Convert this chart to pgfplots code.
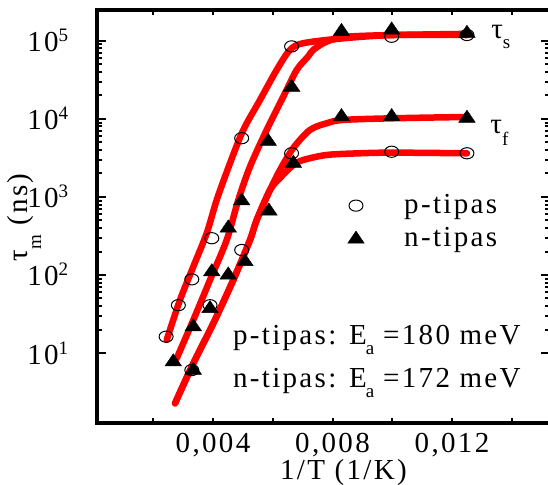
\documentclass[border=0pt]{standalone}
\usepackage{fontspec}
\setmainfont[LetterSpace=8]{Liberation Serif}
\usepackage{pgfplots}
\pgfplotsset{compat=1.18}
\begin{document}
\fontsize{29}{34}\selectfont
\begin{tikzpicture}
\useasboundingbox (-97pt,-61pt) rectangle (451pt,423pt);
\begin{axis}[
  at={(0pt,0pt)}, anchor=south west,
  scale only axis, width=453pt, height=413pt,
  clip=false,
  axis on top,
  ymode=log,
  xmin=0.000117, xmax=0.01528,
  ymin=1.268, ymax=249000,
  axis line style={black, line width=3.5pt},
  tick align=inside,
  every tick/.style={black, line width=2pt},
  major tick length=9pt, minor tick length=5pt,
  xtick={0.004,0.008,0.012},
  xticklabels={{0,004},{0,008},{0,012}},
  minor xtick={0.002,0.006,0.010,0.014},
  xtick style={/pgfplots/major tick length=5pt,/pgfplots/minor tick length=5pt},
  ytick={10,100,1000,10000,100000},
  yticklabels={10\raisebox{10pt}{\fontsize{19}{19}\selectfont 1},
               10\raisebox{10pt}{\fontsize{19}{19}\selectfont 2},
               10\raisebox{10pt}{\fontsize{19}{19}\selectfont 3},
               10\raisebox{10pt}{\fontsize{19}{19}\selectfont 4},
               10\raisebox{10pt}{\fontsize{19}{19}\selectfont 5}},
  xticklabel style={anchor=base, yshift=-29pt},
  yticklabel style={anchor=base east, xshift=-19pt, yshift=-11pt},
  scaled x ticks=false,
  legend style={draw=none, fill=none, at={(axis description cs:0.5465,0.565)}, anchor=north west,
    row sep=6pt, /tikz/every odd column/.append style={column sep=38pt}},
  legend cell align=left,
]
% frame
\draw[black, line width=3.5pt, line cap=rect] (rel axis cs:0,0) -- (rel axis cs:0,1) -- (rel axis cs:1,1);
\draw[black, line width=3.5pt, line cap=rect] (rel axis cs:0,0) -- (rel axis cs:1,0) -- (rel axis cs:1,1);
% fitted curves
\addplot[red, line width=6.5pt, line cap=round, smooth, tension=0.5, forget plot] coordinates {
(0.002450,14.7) (0.002895,47.8) (0.003341,128) (0.003789,343) (0.004124,916)
(0.004569,2705) (0.005014,7230) (0.005573,17500) (0.006132,42500) (0.006577,76700)
(0.007023,93500) (0.008361,108000) (0.010035,119000) (0.012502,119000)};
\addplot[red, line width=6.5pt, line cap=round, smooth, tension=0.5, forget plot] coordinates {
(0.002785,8.55) (0.003341,26.5) (0.003900,86.3) (0.004459,281) (0.004847,916)
(0.005238,2446) (0.005797,7230) (0.006353,19300) (0.006802,42500) (0.007180,62900)
(0.007357,76700) (0.007806,98000) (0.008475,113000) (0.010035,119000) (0.012502,123000)};
\addplot[red, line width=6.5pt, line cap=round, smooth, tension=0.5, forget plot] coordinates {
(0.002728,2.26) (0.003341,7.38) (0.004010,24.0) (0.004679,86.3) (0.005238,281)
(0.005463,507) (0.005908,1230) (0.006243,2220) (0.006688,4250) (0.007247,7230)
(0.007806,8810) (0.008361,9710) (0.010035,10200) (0.012502,10600)};
\addplot[red, line width=6.5pt, line cap=round, smooth, tension=0.5, forget plot] coordinates {
(0.002728,2.26) (0.003341,7.38) (0.004010,24.0) (0.004679,86.3) (0.005238,281)
(0.005463,507) (0.005908,1230) (0.006243,1750) (0.006688,2570) (0.007023,2980)
(0.007806,3455) (0.008921,3630) (0.010035,3700) (0.012502,3630)};
% data
\addplot[only marks, mark=o, mark size=7pt, mark options={black, line width=1pt, yscale=0.8}] coordinates {
(0.00243,16.2) (0.00284,41) (0.00329,88) (0.00396,296) (0.00496,5660)
(0.00663,85000) (0.00998,113000) (0.0125,119000)};
\addlegendentry{p-tipas}
\addplot[only marks, mark=triangle*, mark size=9.5pt, mark options={black, fill=black, line width=0.5pt, yscale=0.85}] coordinates {
(0.00267,7.7) (0.00334,21.7) (0.00396,110) (0.00451,400) (0.00496,890)
(0.00585,5150) (0.00663,25500) (0.0083,132000) (0.00998,138000) (0.0125,125000)};
\addlegendentry{n-tipas}
\addplot[only marks, mark=o, mark size=7pt, mark options={black, line width=1pt, yscale=0.8}, forget plot] coordinates {
(0.00329,6.05) (0.0039,41) (0.00496,209) (0.00663,3630) (0.00998,3800) (0.0125,3630)};
\addplot[only marks, mark=triangle*, mark size=9.5pt, mark options={black, fill=black, line width=0.5pt, yscale=0.85}, forget plot] coordinates {
(0.00334,6.0) (0.0039,37) (0.00451,100) (0.00507,148) (0.00587,660)
(0.00669,2700) (0.0083,10700) (0.00998,10700) (0.0125,10200)};
% labels
\node[rotate=90, anchor=base] at (axis description cs:-0.1545,0.4976)
  {τ\raisebox{-14pt}{\fontsize{19}{19}\selectfont m} (ns)};
\node[anchor=base] at (axis description cs:0.544,-0.1356) {1/T (1/K)};
\node[anchor=base west, inner sep=0pt] at (axis description cs:0.870,0.932)
  {τ\raisebox{-10pt}{\fontsize{19}{19}\selectfont s}};
\node[anchor=base west, inner sep=0pt] at (axis description cs:0.868,0.700)
  {τ\raisebox{-12pt}{\fontsize{19}{19}\selectfont f}};
\node[anchor=base west, inner sep=0pt] at (axis description cs:0.300,0.189)
  {p-tipas: E\kern-1pt\raisebox{-10pt}{\fontsize{19}{19}\selectfont a}\kern9pt =180 meV};
\node[anchor=base west, inner sep=0pt] at (axis description cs:0.300,0.085)
  {n-tipas: E\kern-1pt\raisebox{-10pt}{\fontsize{19}{19}\selectfont a}\kern9pt =172 meV};
\end{axis}
\end{tikzpicture}
\end{document}
